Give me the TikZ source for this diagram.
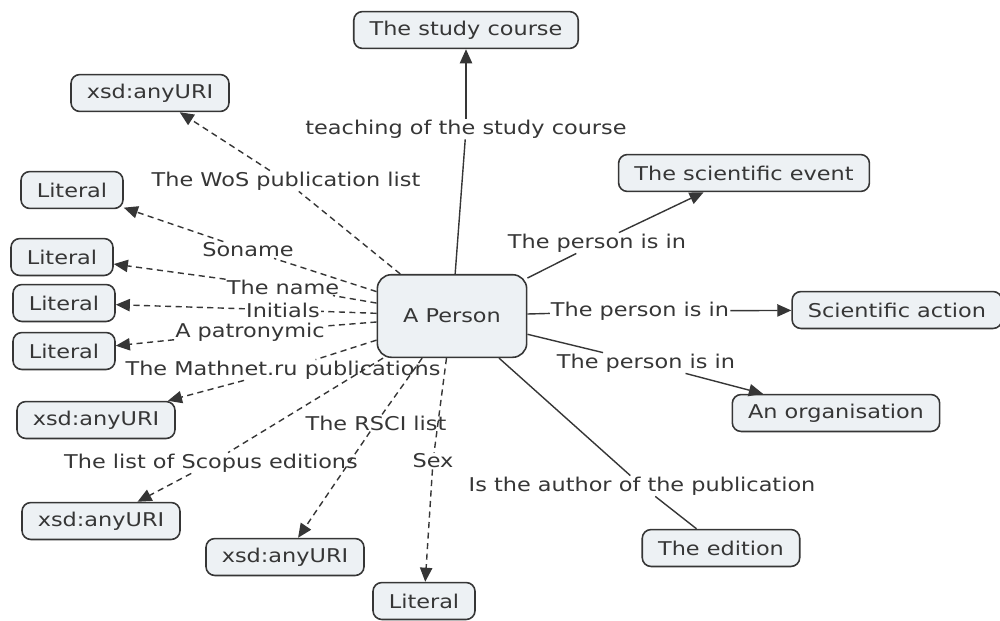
\documentclass[tikz,border=0pt]{standalone}
\usepackage{fontspec}
\setmainfont{DejaVu Sans}[FakeStretch=1.18]
\usetikzlibrary{arrows.meta}
\definecolor{boxfill}{HTML}{EDF1F4}
\definecolor{inkgray}{HTML}{363636}
\begin{document}
\begin{tikzpicture}[x=0.02cm, y=-0.02cm,
    concept/.style={draw=inkgray, fill=boxfill, rounded corners=5pt, line width=0.9pt,
                    inner xsep=9pt, minimum height=21pt, text=inkgray,
                    font=\fontsize{10.8}{13}\selectfont},
    person/.style={concept, rounded corners=8pt, minimum width=85pt, minimum height=47pt},
    link/.style={fill=white, inner sep=0.5pt, text=inkgray, font=\fontsize{10.8}{13}\selectfont},
    rel/.style={draw=inkgray, line width=0.8pt},
    opt/.style={rel, dash pattern=on 3.5pt off 2.5pt},
    tip/.style={-{Triangle[length=8pt, width=7pt]}}]
  \useasboundingbox (0, 0) rectangle (1000, 620);
  % concepts
  \node [person]  (person)  at (452, 316) {A Person};
  \node [concept] (course)  at (466, 30)  {The study course};
  \node [concept] (uriwos)  at (150, 93)  {xsd:anyURI};
  \node [concept] (litsur)  at (72, 190)  {Literal};
  \node [concept] (litname) at (62, 257)  {Literal};
  \node [concept] (litini)  at (64, 303)  {Literal};
  \node [concept] (litpat)  at (64, 351)  {Literal};
  \node [concept] (urimath) at (96, 420)  {xsd:anyURI};
  \node [concept] (uriscop) at (101, 521) {xsd:anyURI};
  \node [concept] (urirsci) at (285, 557) {xsd:anyURI};
  \node [concept] (litsex)  at (424, 601) {Literal};
  \node [concept] (event)   at (744, 173) {The scientific event};
  \node [concept] (action)  at (897, 310) {Scientific action};
  \node [concept] (org)     at (836, 413) {An organisation};
  \node [concept] (edition) at (721, 548) {The edition};
  % linking phrases
  \node [link] (lteach) at (466, 129) {teaching of the study course};
  \node [link] (lwos)   at (286, 181) {The WoS publication list};
  \node [link] (lsur)   at (248, 250) {Soname};
  \node [link] (lname)  at (283, 287) {The name};
  \node [link] (lini)   at (283, 310) {Initials};
  \node [link] (lpat)   at (250, 332) {A patronymic};
  \node [link] (lmath)  at (283, 370) {The Mathnet.ru publications};
  \node [link] (lscop)  at (211, 463) {The list of Scopus editions};
  \node [link] (lrsci)  at (376, 423) {The RSCI list};
  \node [link] (lsex)   at (433, 461) {Sex};
  \node [link] (levent) at (597, 243) {The person is in};
  \node [link] (lact)   at (640, 311) {The person is in};
  \node [link] (lorg)   at (646, 363) {The person is in};
  \node [link] (lauth)  at (642, 486) {Is the author of the publication};
  % solid relations
  \draw [rel] (person) -- (lteach);
  \draw [rel, tip] (lteach) -- (course);
  \draw [rel] (person) -- (levent);
  \draw [rel, tip] (levent) -- (event);
  \draw [rel] (person) -- (lact);
  \draw [rel, tip] (lact) -- (action);
  \draw [rel] (person) -- (lorg);
  \draw [rel, tip] (lorg) -- (org);
  \draw [rel] (person) -- (lauth) -- (edition);
  % dashed relations
  \draw [opt] (person) -- (lwos);
  \draw [opt, tip] (lwos) -- (uriwos);
  \draw [opt] (person) -- (lsur);
  \draw [opt, tip] (lsur) -- (litsur);
  \draw [opt] (person) -- (lname);
  \draw [opt, tip] (lname) -- (litname);
  \draw [opt] (person) -- (lini);
  \draw [opt, tip] (lini) -- (litini);
  \draw [opt] (person) -- (lpat);
  \draw [opt, tip] (lpat) -- (litpat);
  \draw [opt] (person) -- (lmath);
  \draw [opt, tip] (lmath) -- (urimath);
  \draw [opt] (person) -- (lscop);
  \draw [opt, tip] (lscop) -- (uriscop);
  \draw [opt] (person) -- (lrsci);
  \draw [opt, tip] (lrsci) -- (urirsci);
  \draw [opt] (person) -- (lsex);
  \draw [opt, tip] (lsex) -- (litsex);
\end{tikzpicture}
\end{document}
